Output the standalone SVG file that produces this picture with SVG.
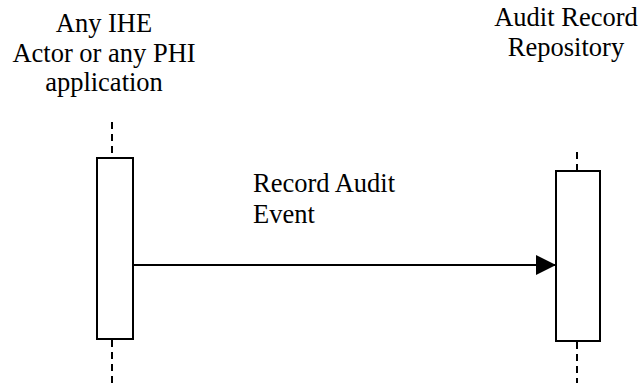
<svg xmlns="http://www.w3.org/2000/svg" width="640" height="383" viewBox="0 0 640 383">
<defs>
<marker id="ah" markerWidth="20" markerHeight="20" refX="20" refY="10" orient="auto" markerUnits="userSpaceOnUse">
<path d="M0,0 L20,10 L0,20 Z" fill="#000"/>
</marker>
</defs>
<g id="actor-left">
<text x="104" y="32" text-anchor="middle" font-family="Liberation Serif, Times New Roman, Noto Serif, DejaVu Serif, serif" font-size="26.5">Any IHE</text>
<text x="104" y="62" text-anchor="middle" font-family="Liberation Serif, Times New Roman, Noto Serif, DejaVu Serif, serif" font-size="26.5">Actor or any PHI</text>
<text x="104" y="91" text-anchor="middle" font-family="Liberation Serif, Times New Roman, Noto Serif, DejaVu Serif, serif" font-size="26.5">application</text>
<line x1="112" y1="122" x2="112" y2="158" stroke="#000" stroke-width="2" stroke-dasharray="7,5"/>
<rect x="97" y="158" width="36" height="181" fill="#fff" stroke="#000" stroke-width="2"/>
<line x1="112" y1="340" x2="112" y2="383" stroke="#000" stroke-width="2" stroke-dasharray="7,5"/>
</g>
<g id="actor-right">
<text x="566" y="26" text-anchor="middle" font-family="Liberation Serif, Times New Roman, Noto Serif, DejaVu Serif, serif" font-size="26.5">Audit Record</text>
<text x="566" y="56" text-anchor="middle" font-family="Liberation Serif, Times New Roman, Noto Serif, DejaVu Serif, serif" font-size="26.5">Repository</text>
<line x1="577" y1="152" x2="577" y2="171" stroke="#000" stroke-width="2" stroke-dasharray="7,5"/>
<rect x="556" y="171" width="44" height="170" fill="#fff" stroke="#000" stroke-width="2"/>
<line x1="577" y1="342" x2="577" y2="383" stroke="#000" stroke-width="2" stroke-dasharray="7,5"/>
</g>
<g id="connectors">
<line x1="134" y1="265" x2="556" y2="265" stroke="#000" stroke-width="2" marker-end="url(#ah)"/>
<text x="253" y="192" font-family="Liberation Serif, Times New Roman, Noto Serif, DejaVu Serif, serif" font-size="26.5">Record Audit</text>
<text x="253" y="223" font-family="Liberation Serif, Times New Roman, Noto Serif, DejaVu Serif, serif" font-size="26.5">Event</text>
</g>
</svg>
